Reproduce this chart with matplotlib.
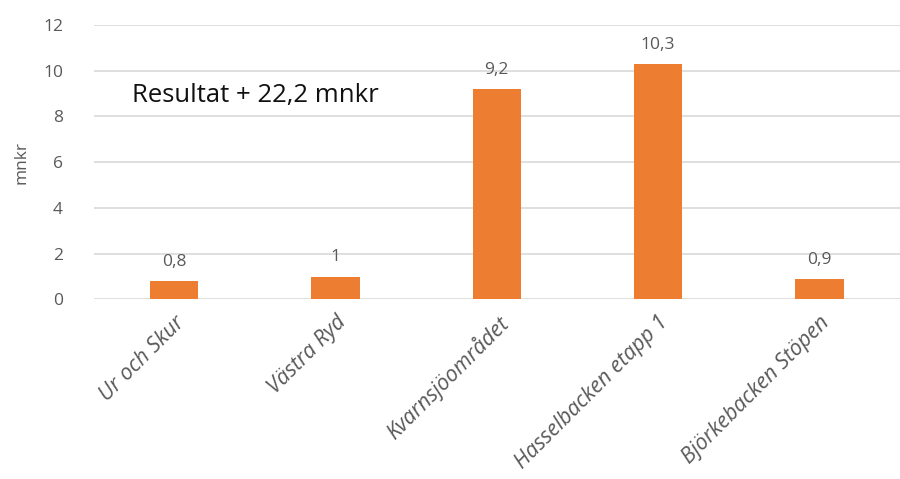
import matplotlib
matplotlib.use("Agg")
from matplotlib import pyplot as plt
from matplotlib.transforms import ScaledTranslation

categories = ["Ur och Skur", "Västra Ryd", "Kvarnsjöområdet", "Hasselbacken etapp 1", "Björkebacken Stöpen"]
values = [0.8, 1.0, 9.2, 10.3, 0.9]
value_labels = ["0,8", "1", "9,2", "10,3", "0,9"]
yticks = [0, 2, 4, 6, 8, 10, 12]

plt.rcParams['font.family'] = ['Open Sans', 'DejaVu Sans']
grey = "#595959"

fig = plt.figure(figsize=(9, 4.79), dpi=100)
ax = fig.add_axes([0.104, 0.375, 0.896, 0.573])

x = list(range(len(categories)))
bars = ax.bar(x, values, width=0.30, color="#ED7D31", zorder=3)
for b, lab in zip(bars, value_labels):
    ax.annotate(lab, (b.get_x() + b.get_width() / 2, b.get_height()),
                xytext=(0, 8), textcoords="offset points",
                ha="center", va="bottom", fontsize=12.5, color=grey)

ax.set_xlim(-0.5, 4.5)
ax.set_ylim(0, 12)
ax.set_yticks(yticks)
ax.set_yticklabels([str(t) for t in yticks], fontsize=12.5, color=grey)
ax.set_xticks(x)
ax.set_xticklabels(categories, rotation=45, ha="right", rotation_mode="anchor",
                   fontsize=15.5, color=grey, style="italic")
shift = ScaledTranslation(10 / 100, 0, fig.dpi_scale_trans)
for lbl in ax.get_xticklabels():
    lbl.set_transform(lbl.get_transform() + shift)
ax.tick_params(axis="both", length=0)
ax.tick_params(axis="y", pad=22)
ax.tick_params(axis="x", pad=9)
ax.grid(axis="y", color="#d9d9d9", linewidth=1.2, zorder=0)
for s in ax.spines.values():
    s.set_visible(False)

ax.set_ylabel("mnkr", fontsize=12.5, color=grey, labelpad=10)
ax.text(-0.26, 8.9, "Resultat + 22,2 mnkr", fontsize=18.5, color="#111111", va="center", ha="left")

fig.savefig("out.png", dpi=100)
